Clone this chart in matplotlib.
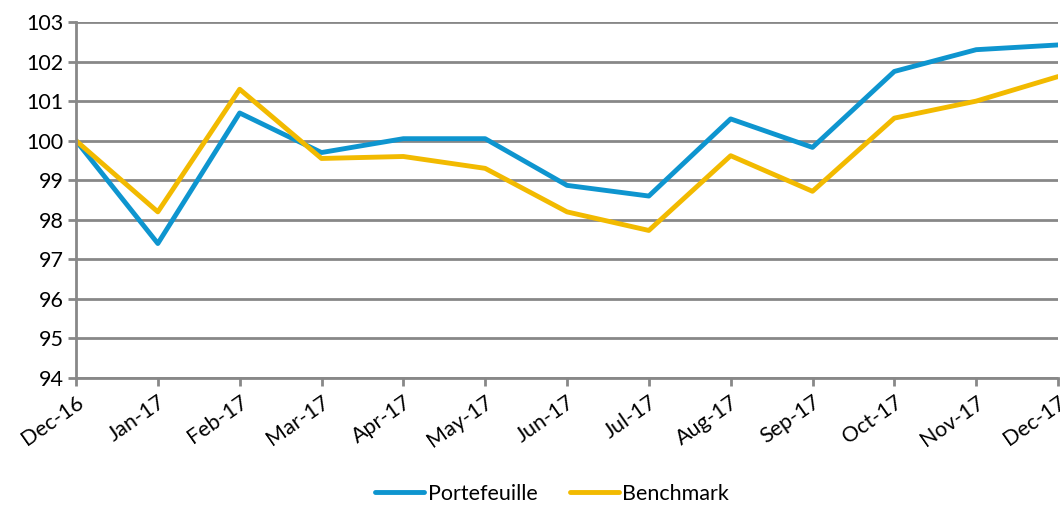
import matplotlib.pyplot as plt

months = ["Dec-16", "Jan-17", "Feb-17", "Mar-17", "Apr-17", "May-17", "Jun-17",
          "Jul-17", "Aug-17", "Sep-17", "Oct-17", "Nov-17", "Dec-17"]
portefeuille = [100.0, 97.4, 100.7, 99.7, 100.05, 100.05, 98.87, 98.6, 100.55, 99.83, 101.75, 102.3, 102.42]
benchmark = [100.0, 98.2, 101.3, 99.55, 99.6, 99.3, 98.2, 97.73, 99.62, 98.72, 100.57, 101.0, 101.62]

plt.rcParams['font.family'] = ['Lato', 'DejaVu Sans']

fig = plt.figure(figsize=(10.6, 5.05), dpi=100)
ax = fig.add_axes([76/1060, 1 - 378/505, (1058-76)/1060, (378-22)/505])

x = list(range(len(months)))
ax.plot(x, portefeuille, color="#0E95CF", lw=3.5, label="Portefeuille", solid_capstyle="round")
ax.plot(x, benchmark, color="#F2BA00", lw=3.5, label="Benchmark", solid_capstyle="round")

ax.set_xlim(0, len(months) - 1)
ax.set_ylim(94, 103)
ax.set_yticks(range(94, 104))
ax.set_xticks(x)
ax.set_xticklabels(months, rotation=35, ha="right", rotation_mode="anchor")
ax.tick_params(axis="both", labelsize=15.5, colors="#888888", labelcolor="black", width=2, length=6)
ax.tick_params(axis="x", pad=4)
ax.tick_params(axis="y", pad=3)
ax.yaxis.grid(True, color="#888888", lw=2)
ax.set_axisbelow(True)
for s in ["top", "right"]:
    ax.spines[s].set_visible(False)
ax.spines["left"].set_color("#888888")
ax.spines["left"].set_linewidth(2)
ax.spines["bottom"].set_color("#888888")
ax.spines["bottom"].set_linewidth(2)

fig.legend(loc="center", bbox_to_anchor=(552/1060, 1 - 494/505), ncol=2, frameon=False,
           fontsize=15.5, handlelength=2.3, handletextpad=0.15, columnspacing=1.5)

fig.savefig("out.png", dpi=100)
